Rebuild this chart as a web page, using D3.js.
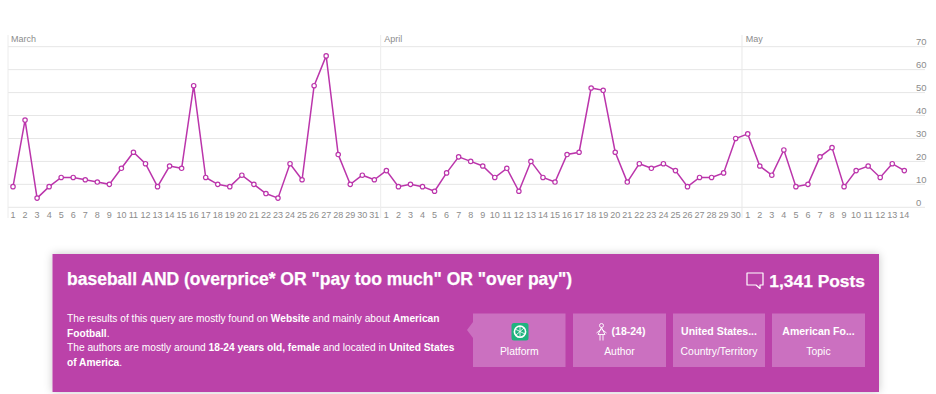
<!DOCTYPE html>
<html><head><meta charset="utf-8">
<script src="https://cdn.jsdelivr.net/npm/d3@7/dist/d3.min.js"></script>
<style>
html,body{margin:0;padding:0;background:#fff}
svg{display:block}
text{font-family:"Liberation Sans",Arial,sans-serif}
</style></head><body>
<svg id="c" width="936" height="394"></svg>
<script>
const marchValues=[9,38,4,9,13,13,12,11,10,17,24,19,9,18,17,53,13,10,9,14,10,6,4,19,12,53,66,23,10,14,12];
const aprilValues=[16,9,10,9,7,15,22,20,18,13,17,7,20,13,11,23,24,52,51,24,11,19,17,19,16,9,13,13,15,30];
const mayValues=[32,18,14,25,9,10,22,26,9,16,18,13,19,16];
const monthNames=["March","April","May"];
const yTicks=[0,10,20,30,40,50,60,70];
const titleText='baseball AND (overprice* OR "pay too much" OR "over pay")';
const postsText='1,341 Posts';
const cardTops=["","(18-24)","United States...","American Fo..."];
const cardLabels=["Platform","Author","Country/Territory","Topic"];

const monthGroups=[marchValues,aprilValues,mayValues];
const data=[];
monthGroups.forEach((vals,m)=>vals.forEach((v,i)=>data.push({m,day:i+1,v,idx:data.length})));

const svg=d3.select("#c");
const x=d3.scaleLinear().domain([0,data.length-1]).range([13,904.3]);
const y=d3.scaleLinear().domain([0,70]).range([207.3,46.7]);
const gridCol="#e6e6e6", labCol="#8c8c8c", purple="#bb35ab";

// gridlines
svg.append("g").selectAll("line").data(yTicks).join("line")
 .attr("x1",8).attr("x2",925).attr("y1",d=>y(d)).attr("y2",d=>y(d))
 .attr("stroke",gridCol).attr("stroke-width",1);
// y labels
svg.append("g").selectAll("text").data(yTicks).join("text")
 .attr("x",916).attr("y",d=>y(d)-1.5).attr("font-size",9.5).attr("fill",labCol)
 .text(d=>d);
// left axis & month separators
svg.append("line").attr("x1",8).attr("x2",8).attr("y1",35).attr("y2",218).attr("stroke","#ececec");
const starts=data.filter(d=>d.day===1);
svg.append("g").selectAll("line").data(starts.slice(1)).join("line")
 .attr("x1",d=>x(d.idx-0.5)+0.3).attr("x2",d=>x(d.idx-0.5)+0.3)
 .attr("y1",35).attr("y2",218).attr("stroke",(d,i)=>i===0?"#ececec":"#e8e8e8");
svg.append("g").selectAll("text").data(starts).join("text")
 .attr("x",(d,i)=>i===0?11:x(d.idx-0.5)+4).attr("y",42).attr("font-size",9).attr("fill",labCol)
 .text(d=>monthNames[d.m]);
// x labels
svg.append("g").selectAll("text").data(data).join("text")
 .attr("x",d=>x(d.idx)).attr("y",217.5).attr("text-anchor","middle").attr("font-size",9).attr("fill",labCol)
 .text(d=>d.day);
// line
svg.append("path").datum(data)
 .attr("d",d3.line().x(d=>x(d.idx)).y(d=>y(d.v)))
 .attr("fill","none").attr("stroke",purple).attr("stroke-width",1.5);
svg.append("g").selectAll("circle").data(data).join("circle")
 .attr("cx",d=>x(d.idx)).attr("cy",d=>y(d.v)).attr("r",2.2)
 .attr("fill","#fff").attr("stroke",purple).attr("stroke-width",1.2);

// panel
const defs=svg.append("defs");
const f=defs.append("filter").attr("id","sh").attr("x","-5%").attr("y","-15%").attr("width","110%").attr("height","130%");
f.append("feDropShadow").attr("dx",0).attr("dy",0).attr("stdDeviation",4).attr("flood-color","#000").attr("flood-opacity",0.22);
svg.append("rect").attr("x",52.5).attr("y",254).attr("width",826.5).attr("height",138).attr("fill","#bb42a9").attr("filter","url(#sh)");

svg.append("text").attr("x",67).attr("y",285).attr("font-size",17.5).attr("font-weight","bold").attr("fill","#fff").attr("stroke","#fff").attr("stroke-width",0.25).text(titleText);
svg.append("text").attr("x",865).attr("y",286.5).attr("text-anchor","end").attr("font-size",17.4).attr("font-weight","bold").attr("fill","#fff").attr("stroke","#fff").attr("stroke-width",0.25).text(postsText);
// chat icon
svg.append("path").attr("d","M747 273h16v12h-3v3.5l-4-3.5h-9z").attr("fill","none").attr("stroke","#fff").attr("stroke-width",1.2).attr("stroke-linejoin","round");

// paragraph
const lines=[
 [["The results of this query are mostly found on ",0],["Website",1],[" and mainly about ",0],["American",1]],
 [["Football",1],[".",0]],
 [["The authors are mostly around ",0],["18-24 years old, female",1],[" and located in ",0],["United States",1]],
 [["of America",1],[".",0]]
];
const para=svg.append("g");
lines.forEach((ln,i)=>{
 const t=para.append("text").attr("x",67).attr("y",322+i*14.7).attr("font-size",10.2).attr("fill","#fff");
 t.selectAll("tspan").data(ln).join("tspan").attr("font-weight",d=>d[1]?"bold":"normal").text(d=>d[0]);
});

// cards
const cardX=d3.scaleOrdinal().domain(cardLabels).range([473,573,673,772]);
const cardW=[92.5,93,92,93];
const cards=svg.append("g").selectAll("g").data(cardLabels).join("g");
cards.append("rect").attr("x",d=>cardX(d)).attr("y",313.5).attr("width",(d,i)=>cardW[i]).attr("height",53.5).attr("fill","#cb70c0");
svg.append("path").attr("d","M473 322l-6 8 6 8z").attr("fill","#cb70c0");
cards.append("text").attr("x",(d,i)=>cardX(d)+cardW[i]/2).attr("y",355).attr("text-anchor","middle").attr("font-size",10.4).attr("fill","#fff").text(d=>d);
cards.append("text").attr("x",(d,i)=>cardX(d)+cardW[i]/2+(i===1?9:0)).attr("y",335).attr("text-anchor","middle")
 .attr("font-size",10.5).attr("font-weight","bold").attr("fill","#fff").text((d,i)=>cardTops[i]);
// platform icon
svg.append("rect").attr("x",511.5).attr("y",323).attr("width",17).attr("height",17.5).attr("rx",2.5).attr("fill","#1fb37f");
svg.append("circle").attr("cx",520).attr("cy",331.7).attr("r",5.6).attr("fill","none").attr("stroke","#fff").attr("stroke-width",1.6);
svg.append("path").attr("d","M515 329l10 5M516 335l8-7M520 326v11").attr("stroke","#fff").attr("stroke-width",.8).attr("fill","none");
// female icon
const fi=svg.append("g").attr("fill","none").attr("stroke","#fff").attr("stroke-width",.9);
fi.append("circle").attr("cx",601.5).attr("cy",325.5).attr("r",2);
fi.append("path").attr("d","M601.5 327.5l-3.5 7h7zM596.5 333l5-4 5 4M600 334.5v6M603 334.5v6");
</script>
</body></html>
